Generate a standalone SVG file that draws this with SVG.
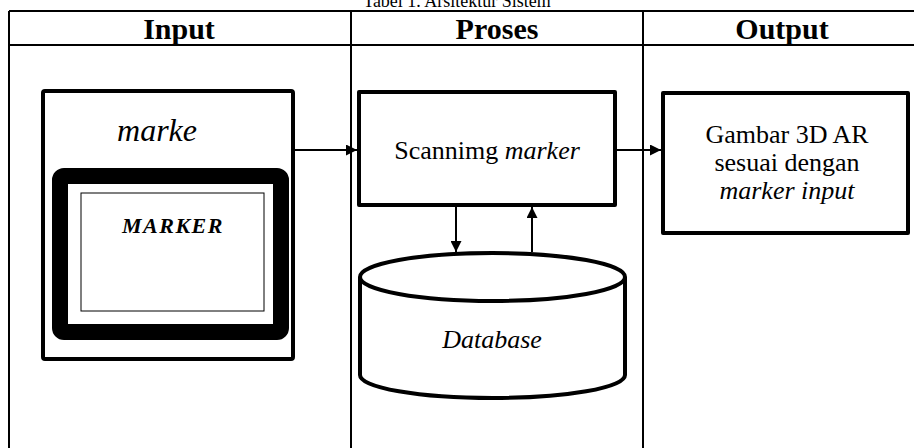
<svg xmlns="http://www.w3.org/2000/svg" width="914" height="448" viewBox="0 0 914 448">
  <style>
    .serif { font-family: "Liberation Serif", "Times New Roman", serif; fill: #000; }
    .head { font-size: 30px; font-weight: bold; text-anchor: middle; }
    .lbl { font-size: 26px; text-anchor: middle; }
    .it { font-style: italic; }
    .grid { stroke: #000; stroke-width: 2; fill: none; }
    .box { stroke: #000; stroke-width: 4; fill: #fff; stroke-linejoin: round; }
    .conn { stroke: #000; stroke-width: 2; fill: none; }
  </style>
  <defs>
    <marker id="arrow" viewBox="0 0 10 10" refX="10" refY="5" markerWidth="5.5" markerHeight="5.5" orient="auto" markerUnits="strokeWidth">
      <path d="M0,0 L10,5 L0,10 Z" fill="#000"/>
    </marker>
  </defs>

  <rect width="914" height="448" fill="#fff"/>

  <!-- table caption (partly above the top edge) -->
  <text class="serif" x="457" y="7" font-size="18" text-anchor="middle">Tabel 1. Arsitektur Sistem</text>

  <!-- table grid -->
  <g id="table">
    <path class="grid" d="M9,11 H920 M9,45 H920 M9,11 V448 M351,11 V448 M643,11 V448"/>
    <text class="serif head" x="179" y="39">Input</text>
    <text class="serif head" x="497" y="39">Proses</text>
    <text class="serif head" x="782" y="39">Output</text>
  </g>

  <!-- input node: card holding the printed marker -->
  <g id="input">
    <rect class="box" x="43" y="91" width="250" height="268" rx="2"/>
    <text class="serif it" x="157" y="141" font-size="32" text-anchor="middle">marke</text>
    <rect x="60" y="176" width="221" height="156" rx="4" fill="none" stroke="#000" stroke-width="16"/>
    <rect x="81" y="193" width="183" height="118" fill="#fff" stroke="#000" stroke-width="1"/>
    <text class="serif it" x="173" y="233" font-size="22" font-weight="bold" text-anchor="middle" letter-spacing="1.5">MARKER</text>
  </g>

  <!-- process node -->
  <g id="scanning">
    <rect class="box" x="359" y="92" width="256" height="113"/>
    <text class="serif lbl" x="487" y="159">Scannimg <tspan class="it">marker</tspan></text>
  </g>

  <!-- database cylinder -->
  <g id="database">
    <path class="box" d="M360,277 V375 A132.5,23 0 0 0 625,375 V277"/>
    <ellipse class="box" cx="492.5" cy="277" rx="132.5" ry="24"/>
    <text class="serif lbl it" x="492" y="348">Database</text>
  </g>

  <!-- output node -->
  <g id="output">
    <rect class="box" x="663" y="93" width="245" height="140"/>
    <text class="serif lbl" x="787" y="143">Gambar 3D AR</text>
    <text class="serif lbl" x="787" y="171">sesuai dengan</text>
    <text class="serif lbl it" x="787" y="199">marker input</text>
  </g>

  <!-- connectors -->
  <g id="connectors">
    <line class="conn" x1="293" y1="150" x2="357" y2="150" marker-end="url(#arrow)"/>
    <line class="conn" x1="615" y1="150" x2="661" y2="150" marker-end="url(#arrow)"/>
    <line class="conn" x1="456" y1="207" x2="456" y2="252" marker-end="url(#arrow)"/>
    <line class="conn" x1="532" y1="252" x2="532" y2="207" marker-end="url(#arrow)"/>
  </g>
</svg>
